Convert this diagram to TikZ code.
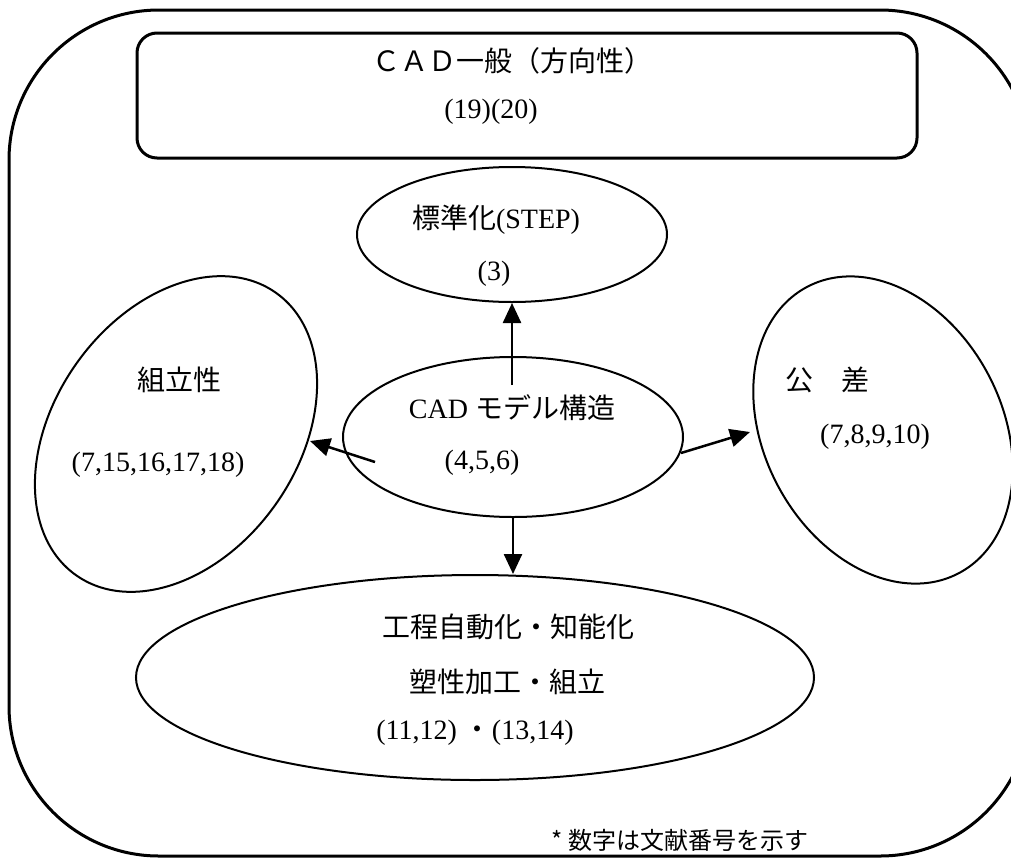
\documentclass[tikz,border=0pt]{standalone}
\usepackage{fontspec}
\setmainfont{Liberation Serif}
\newfontfamily\cjk{Noto Sans CJK JP}
\usetikzlibrary{shapes.geometric,arrows.meta}
\tikzset{
  outerbox/.style={draw, line width=3pt, rounded corners=150pt},
  genbox/.style={draw, line width=3pt, rounded corners=20pt, inner sep=0pt},
  ell/.style={draw, ellipse, line width=2pt, inner sep=0pt},
  lbl/.style={inner sep=0pt, font=\fontsize{28}{32}\selectfont},
  note/.style={inner sep=0pt, font=\cjk\fontsize{24}{27}\selectfont},
  arr/.style={line width=2.5pt, -{Triangle[length=20pt,width=18pt]}}
}
\begin{document}
\begin{tikzpicture}[x=1pt,y=1pt]
\useasboundingbox (0,0) rectangle (1011,-857);
% outer frame
\draw[outerbox] (9,-10) rectangle (1030,-856);
% top box
\node[genbox, minimum width=780pt, minimum height=125pt] (gen) at (527,-95.5) {};
\node[lbl] (genT) at (512,-61) {\cjk ＣＡＤ一般（方向性）};
\node[lbl] (genN) at (491,-112) {(19)(20)};
% ellipses
\node[ell, minimum width=310pt, minimum height=135pt] (std) at (512,-234.5) {};
\node[ell, minimum width=340pt, minimum height=160pt] (ctr) at (513,-437) {};
\node[ell, minimum width=346pt, minimum height=244pt, rotate=54.7] (asm) at (176,-434) {};
\node[ell, minimum width=324pt, minimum height=238pt, rotate=-62] (tol) at (883,-430) {};
\node[ell, minimum width=678pt, minimum height=205pt] (bot) at (475,-677.5) {};
% texts
\node[lbl] (stdT) at (496,-220) {{\cjk 標準化}(STEP)};
\node[lbl] (stdN) at (494,-274) {(3)};
\node[lbl] (ctrT) at (512,-408) {CAD {\cjk モデル構造}};
\node[lbl] (ctrN) at (482,-463) {(4,5,6)};
\node[lbl] (asmT) at (179,-380) {\cjk 組立性};
\node[lbl] (asmN) at (158,-465) {(7,15,16,17,18)};
\node[lbl] (tolT) at (827,-380) {\cjk 公　差};
\node[lbl] (tolN) at (875,-437) {(7,8,9,10)};
\node[lbl] (botT1) at (508,-627) {\cjk 工程自動化・知能化};
\node[lbl] (botT2) at (507,-682) {\cjk 塑性加工・組立};
\node[lbl] (botN) at (475,-733) {(11,12) {\cjk ・}(13,14)};
\node[note] (noteT) at (680,-840) {* 数字は文献番号を示す};
% connectors
\coordinate (upS) at (512,-385);
\coordinate (lfS) at (375,-462);
\coordinate (lfE) at (310,-441);
\coordinate (rtS) at (681,-453);
\coordinate (rtE) at (750,-432);
\draw[arr] (upS) -- (std.south);
\draw[arr] (lfS) -- (lfE);
\draw[arr] (rtS) -- (rtE);
\draw[arr] (ctr.south) -- (ctr.south |- bot.north);
\end{tikzpicture}
\end{document}
